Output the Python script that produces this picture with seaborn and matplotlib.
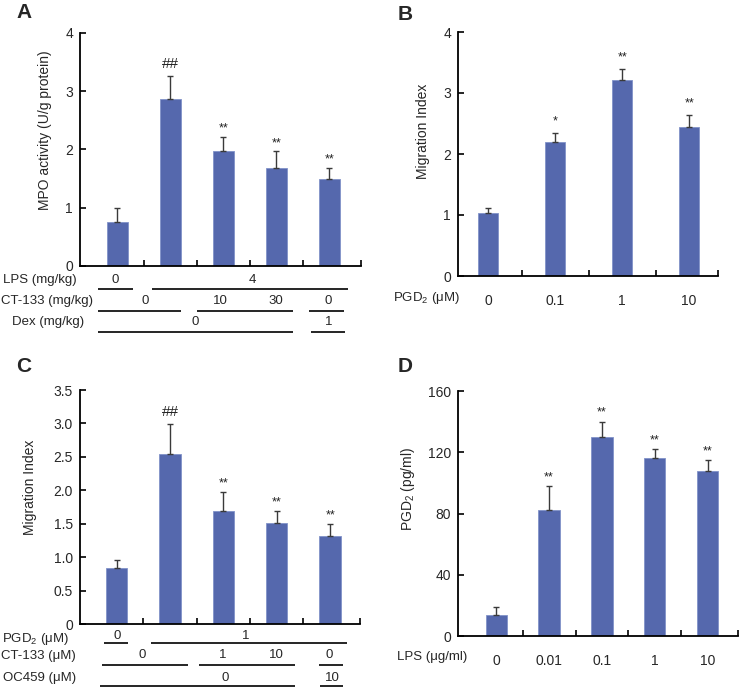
import matplotlib
matplotlib.use("Agg")
import matplotlib.pyplot as plt
import matplotlib.transforms as mtransforms
import seaborn as sns
import pandas as pd
import numpy as np

sns.set_style("ticks")
plt.rcParams['font.family'] = ['Liberation Sans', 'DejaVu Sans']
plt.rcParams['mathtext.fontset'] = 'custom'
plt.rcParams['mathtext.rm'] = 'Liberation Sans'
plt.rcParams['mathtext.it'] = 'Liberation Sans:italic'

BAR = '#5568ad'
ERR = '#3a3a3a'

# ---- data ----
a_groups = ['ctrl', 'lps', 'ct10', 'ct30', 'dex']
a_mean = [0.75, 2.86, 1.97, 1.69, 1.49]
a_sem = [0.24, 0.40, 0.25, 0.28, 0.20]
a_marks = ['', '##', '**', '**', '**']

b_dose = ['0', '0.1', '1', '10']
b_mean = [1.04, 2.20, 3.22, 2.45]
b_sem = [0.08, 0.14, 0.17, 0.19]
b_marks = ['', '*', '**', '**']

c_groups = ['ctrl', 'pgd2', 'ct1', 'ct10', 'oc459']
c_mean = [0.84, 2.55, 1.69, 1.51, 1.31]
c_sem = [0.12, 0.44, 0.29, 0.18, 0.19]
c_marks = ['', '##', '**', '**', '**']

d_dose = ['0', '0.01', '0.1', '1', '10']
d_mean = [14, 82, 130, 116, 108]
d_sem = [5, 16, 10, 6, 7]
d_marks = ['', '**', '**', '**', '**']

# treatment tables: (label, label x px, label dy px, text dy px, line dy px,
#                    [(text, x)], [(x0, x1)])
a_rows = [
    ('LPS (mg/kg)', 3, 14, 14, 23, [('0', -0.04), ('4', 2.55)],
     [(-0.36, 0.30), (0.66, 4.36)]),
    ('CT-133 (mg/kg)', 1, 35, 35, 45, [('0', 0.53), ('10', 1.94), ('30', 3.0), ('0', 3.98)],
     [(-0.36, 1.21), (1.51, 3.32), (3.62, 4.28)]),
    ('Dex (mg/kg)', 12, 56, 56, 66, [('0', 1.47), ('1', 4.0)],
     [(-0.36, 3.32), (3.66, 4.30)]),
]
c_rows = [
    ('PGD$_2$ (\u03bcM)', 2, 15, 12, 18.5, [('0', 0.0), ('1', 2.42)],
     [(-0.24, 0.21), (0.64, 4.32)]),
    ('CT-133 (\u03bcM)', 1, 32, 31.5, 41, [('0', 0.47), ('1', 1.99), ('10', 2.99), ('0', 3.98)],
     [(-0.28, 1.33), (1.54, 3.34), (3.79, 4.24)]),
    ('OC459 (\u03bcM)', 3, 54, 54, 62, [('0', 2.03), ('10', 4.04)],
     [(-0.32, 3.34), (3.81, 4.24)]),
]

W, H = 740, 689
fig = plt.figure(figsize=(7.4, 6.89), dpi=100)


def px_axes(l, t, r, b):
    return fig.add_axes([l / W, 1 - b / H, (r - l) / W, (b - t) / H])


def bar_panel(ax, groups, mean, sem, marks, width, xlim, ylim, yticks, yticklabels,
              ylabel, ylabel_pos, star_off, hash_off):
    df = pd.DataFrame({'group': groups, 'value': mean})
    sns.barplot(data=df, x='group', y='value', color=BAR, saturation=1, width=width,
                edgecolor='#8192c8', linewidth=0.6, ax=ax)
    n = len(groups)
    ax.errorbar(np.arange(n), mean, yerr=[np.zeros(n), sem], fmt='none', ecolor=ERR,
                elinewidth=1.0, capsize=2.2, capthick=1.0, zorder=1)
    for i, m in enumerate(marks):
        if not m:
            continue
        fs = 11 if m == '##' else 9
        off = hash_off if m == '##' else star_off
        ax.annotate(m, (i, mean[i] + sem[i]), xytext=(0, off), textcoords='offset points',
                    ha='center', va='bottom', fontsize=fs, color='#222222')
    ax.set_xlim(*xlim)
    ax.set_ylim(*ylim)
    ax.set_yticks(yticks)
    ax.set_yticklabels(yticklabels)
    ax.set_ylabel(ylabel, fontsize=10)
    ax.yaxis.set_label_coords(*ylabel_pos)
    ax.set_xlabel('')
    seps = [i + 0.5 for i in range(n - 1)] + [xlim[1]]
    ax.set_xticks(seps, minor=True)
    ax.tick_params(axis='x', which='minor', direction='in', length=4, width=1.2, color='black')
    ax.tick_params(axis='y', direction='in', length=4, width=1.2, color='black',
                   labelsize=10, pad=5)
    sns.despine(ax=ax)
    for s in ['left', 'bottom']:
        ax.spines[s].set_color('black')
        ax.spines[s].set_linewidth(1.3)


ax_bottom = {}


def table(ax, rows, ax_h_px):
    tr = mtransforms.blended_transform_factory(ax.transData, ax.transAxes)
    for label, lx, ldy_lab, tdy, ldy, texts, lines in rows:
        fig.text(lx / W, 1 - (ax_bottom[ax] + ldy_lab) / H, label, fontsize=9.5,
                 ha='left', va='center')
        for t, x in texts:
            ax.text(x, -tdy / ax_h_px, t, transform=tr, fontsize=9.5, ha='center',
                    va='center', clip_on=False)
        for x0, x1 in lines:
            ax.plot([x0, x1], [-ldy / ax_h_px] * 2, transform=tr, color='black',
                    lw=1.2, clip_on=False, solid_capstyle='butt')


# ---- A ----
axA = px_axes(80, 33, 361, 266)
ax_bottom[axA] = 266
bar_panel(axA, a_groups, a_mean, a_sem, a_marks, 0.4, (-0.70, 4.6), (0, 4),
          [0, 1, 2, 3, 4], ['0', '1', '2', '3', '4'], 'MPO activity (U/g protein)',
          (-0.10, 0.585), 1.5, 4)
axA.set_xticks([])
table(axA, a_rows, 233)

# ---- B ----
axB = px_axes(458, 32, 718, 276)
ax_bottom[axB] = 276
bar_panel(axB, b_dose, b_mean, b_sem, b_marks, 0.3, (-0.45, 3.43), (0, 4),
          [0, 1, 2, 3, 4], ['0', '1', '2', '3', '4'], 'Migration Index',
          (-0.108, 0.594), 4, 4)
axB.set_xticks(range(len(b_dose)))
axB.set_xticklabels(b_dose)
axB.tick_params(axis='x', which='major', length=0, pad=13, labelsize=10)
fig.text(460 / W, 1 - 298 / H, 'PGD$_2$ (\u03bcM)', fontsize=9.5, ha='right', va='center')

# ---- C ----
axC = px_axes(80, 390, 360, 624)
ax_bottom[axC] = 624
bar_panel(axC, c_groups, c_mean, c_sem, c_marks, 0.4, (-0.69, 4.56), (0, 3.5),
          [0, 0.5, 1, 1.5, 2, 2.5, 3, 3.5],
          ['0', '0.5', '1.0', '1.5', '2.0', '2.5', '3.0', '3.5'], 'Migration Index',
          (-0.154, 0.585), 1.5, 4)
axC.set_xticks([])
table(axC, c_rows, 234)

# ---- D ----
axD = px_axes(458, 391, 738, 636)
ax_bottom[axD] = 636
bar_panel(axD, d_dose, d_mean, d_sem, d_marks, 0.4, (-0.72, 4.57), (0, 160),
          [0, 40, 80, 120, 160], ['0', '40', '80', '120', '160'], 'PGD$_2$ (pg/ml)',
          (-0.146, 0.6), 2, 4)
axD.set_xticks(range(len(d_dose)))
axD.set_xticklabels(d_dose)
axD.tick_params(axis='x', which='major', length=0, pad=13, labelsize=10)
fig.text(467 / W, 1 - 657 / H, 'LPS (\u03bcg/ml)', fontsize=9.5, ha='right', va='center')

for letter, x, y in [('A', 16, 13), ('B', 398, 15), ('C', 16, 367), ('D', 398, 367)]:
    fig.text(x / W, 1 - y / H, letter, fontsize=15, fontweight='bold', ha='left', va='center')

fig.savefig('out.png', dpi=100)
